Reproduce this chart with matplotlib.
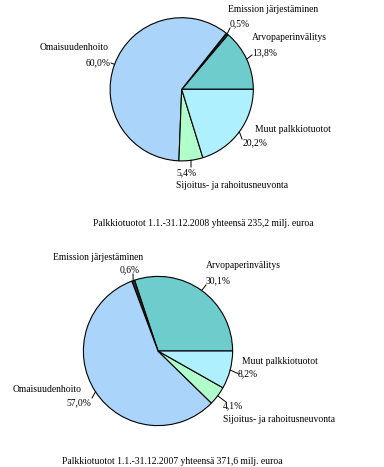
import numpy as np
import matplotlib.pyplot as plt

categories = ["Arvopaperinvälitys", "Emission järjestäminen", "Omaisuudenhoito",
              "Sijoitus- ja rahoitusneuvonta", "Muut palkkiotuotot"]
values_2008 = [13.8, 0.5, 60.0, 5.4, 20.2]
values_2007 = [30.1, 0.6, 57.0, 4.1, 8.2]
title_2008 = "Palkkiotuotot 1.1.-31.12.2008 yhteensä 235,2 milj. euroa"
title_2007 = "Palkkiotuotot 1.1.-31.12.2007 yhteensä 371,6 milj. euroa"

colors = ["#6ecccc", "#333333", "#aad4fa", "#b0ffca", "#aef0fd"]

W, H = 384, 467
fig = plt.figure(figsize=(W / 100, H / 100), dpi=100)
ax = fig.add_axes([0, 0, 1, 1])
plt.rcParams['font.family'] = ['Liberation Serif', 'DejaVu Serif']
fs = 6.9


def Y(y):
    return H - y


def draw_pie(values, cx, cy, r, labels_pos, title, title_pos):
    wedges, _ = ax.pie(values, colors=colors, startangle=0, counterclock=True,
                       center=(cx, Y(cy)), radius=r, frame=True,
                       wedgeprops=dict(edgecolor="black", linewidth=0.8))
    for w, name, v, pos in zip(wedges, categories, values, labels_pos):
        (nx, ny), (px, py), ha, (lx, ly) = pos
        ang = np.deg2rad((w.theta1 + w.theta2) / 2)
        ex, ey = cx + r * np.cos(ang), Y(cy) + r * np.sin(ang)
        ax.plot([ex, lx], [ey, Y(ly)], color="black", lw=0.7)
        ax.text(nx, Y(ny), name, fontsize=fs, ha="left", va="center")
        ax.text(px, Y(py), f"{v:.1f}%".replace(".", ","), fontsize=fs,
                ha=ha, va="center")
    ax.text(title_pos[0], Y(title_pos[1]), title, fontsize=fs, ha="center", va="center")


# layout: (name xy, pct xy, pct ha, leader end xy) per category
pos_2008 = [
    ((252, 38), (252, 53), "left", (252, 55)),
    ((228, 10), (230, 24), "left", (230, 28)),
    ((40, 48), (111, 63), "right", (111, 63)),
    ((176, 186), (176, 173), "left", (191, 167)),
    ((255, 129), (243, 143), "left", (242, 139)),
]
pos_2007 = [
    ((206, 266), (206, 281), "left", (206, 285)),
    ((53, 257), (120, 270), "left", (133, 274)),
    ((13, 389), (91, 403), "right", (92, 398)),
    ((223, 420), (223, 406), "left", (226, 402)),
    ((242, 361), (238, 374), "left", (239, 374)),
]

draw_pie(values_2008, 181.7, 89.3, 71.6, pos_2008, title_2008, (203, 224))
draw_pie(values_2007, 158, 351, 74.6, pos_2007, title_2007, (172, 462))

ax.set_xlim(0, W)
ax.set_ylim(0, H)
ax.set_aspect("equal")
ax.axis("off")
fig.savefig("out.png", dpi=100)
